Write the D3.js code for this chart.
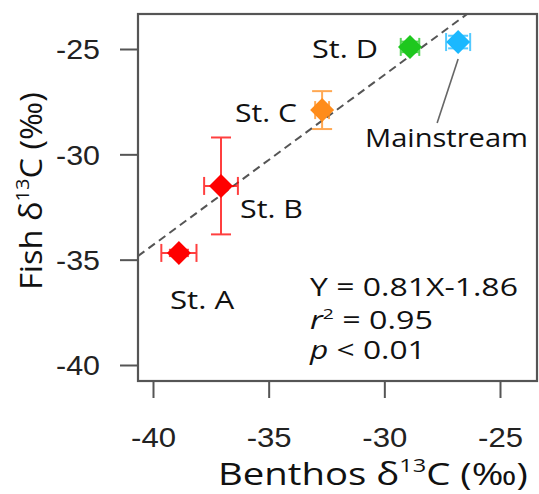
<!DOCTYPE html>
<html>
<head>
<meta charset="utf-8">
<script src="https://cdn.jsdelivr.net/npm/d3@7"></script>
<style>
  html, body { margin: 0; padding: 0; background: #fff; }
  svg { display: block; }
</style>
</head>
<body>
<svg id="chart" width="539" height="494"></svg>
<script>
// ---- data ----
const stations   = ["St. A", "St. B", "St. C", "St. D", "Mainstream"];
const benthosX   = [-38.88, -37.06, -32.69, -28.89, -26.81];
const fishY      = [-34.68, -31.50, -27.90, -24.90, -24.67];
const xErr       = [0.76, 0.73, 0.30, 0.40, 0.52];
const yErr       = [0.15, 2.30, 0.90, 0.25, 0.30];
const colors     = ["#ff0000", "#ff0000", "#ff8c1a", "#1ec81e", "#1ab8ff"];
const xTicks     = [-40, -35, -30, -25];
const yTicks     = [-25, -30, -35, -40];
const fitLineX   = [-40.65, -26.42];
const fitLineY   = [-34.83, -23.34];
const statText   = ["Y = 0.81X-1.86", "0.95", "0.01"];

const svg = d3.select("#chart");
const box = { left: 138, right: 537, top: 14, bottom: 381 };

const x = d3.scaleLinear().domain([-40, -25]).range([153, 500]);
const y = d3.scaleLinear().domain([-25, -40]).range([49, 365]);

const tickFont = "'Liberation Sans', Arial, sans-serif";
const labFont = "'Open Sans', 'Noto Sans', sans-serif";

// horizontally fit a text (placed at its own origin) to a target width
function fit(textSel, tx, ty, width, rotate) {
  const w = textSel.node().getBBox().width;
  const sx = width / w;
  textSel.attr("transform", `translate(${tx},${ty})` + (rotate ? ` rotate(${rotate})` : "") + ` scale(${sx},1)`);
}

// axes
const xAxis = svg.append("g").attr("transform", `translate(0,${box.bottom})`)
  .call(d3.axisBottom(x).tickValues(xTicks).tickSize(17).tickSizeOuter(0));
xAxis.select(".domain").remove();
xAxis.selectAll(".tick line").attr("stroke", "#555").attr("stroke-width", 2);
xAxis.selectAll(".tick text").attr("y", 0).attr("dy", 0)
  .attr("font-family", tickFont).attr("font-size", 27).attr("fill", "#222")
  .text(d => String(d))
  .each(function () { fit(d3.select(this), 0, 66, 45); });

const yAxis = svg.append("g").attr("transform", `translate(${box.left},0)`)
  .call(d3.axisLeft(y).tickValues(yTicks).tickSize(18).tickSizeOuter(0));
yAxis.select(".domain").remove();
yAxis.selectAll(".tick line").attr("stroke", "#555").attr("stroke-width", 2);
yAxis.selectAll(".tick text").attr("x", 0).attr("dy", "0.36em")
  .attr("font-family", tickFont).attr("font-size", 27).attr("fill", "#222")
  .text(d => String(d))
  .each(function () { fit(d3.select(this), -38, 0, 44); });

// box
svg.append("rect")
  .attr("x", box.left).attr("y", box.top)
  .attr("width", box.right - box.left).attr("height", box.bottom - box.top)
  .attr("fill", "none").attr("stroke", "#555").attr("stroke-width", 2.2);

// clip
svg.append("clipPath").attr("id", "clip").append("rect")
  .attr("x", box.left).attr("y", box.top)
  .attr("width", box.right - box.left).attr("height", box.bottom - box.top);

// fit line
svg.append("line")
  .attr("clip-path", "url(#clip)")
  .attr("x1", x(fitLineX[0])).attr("y1", y(fitLineY[0]))
  .attr("x2", x(fitLineX[1])).attr("y2", y(fitLineY[1]))
  .attr("stroke", "#555").attr("stroke-width", 2).attr("stroke-dasharray", "8,5");

// leader line for Mainstream
svg.append("line")
  .attr("x1", x(benthosX[4])).attr("y1", y(fishY[4]) + 17)
  .attr("x2", x(benthosX[4]) - 21).attr("y2", y(fishY[4]) + 81)
  .attr("stroke", "#666").attr("stroke-width", 1.6);

// error bars + points
const pts = stations.map((s, i) => ({ s, x: benthosX[i], y: fishY[i], ex: xErr[i], ey: yErr[i], c: colors[i] }));
const g = svg.append("g");
pts.forEach(p => {
  const cx = x(p.x), cy = y(p.y);
  const eg = g.append("g").attr("stroke", p.c).attr("stroke-width", 2).attr("opacity", 0.75);
  const capV = 10, capH = 9;
  eg.append("line").attr("x1", cx).attr("x2", cx).attr("y1", y(p.y + p.ey)).attr("y2", y(p.y - p.ey));
  eg.append("line").attr("x1", cx - capV).attr("x2", cx + capV).attr("y1", y(p.y + p.ey)).attr("y2", y(p.y + p.ey));
  eg.append("line").attr("x1", cx - capV).attr("x2", cx + capV).attr("y1", y(p.y - p.ey)).attr("y2", y(p.y - p.ey));
  eg.append("line").attr("y1", cy).attr("y2", cy).attr("x1", x(p.x - p.ex)).attr("x2", x(p.x + p.ex));
  eg.append("line").attr("y1", cy - capH).attr("y2", cy + capH).attr("x1", x(p.x - p.ex)).attr("x2", x(p.x - p.ex));
  eg.append("line").attr("y1", cy - capH).attr("y2", cy + capH).attr("x1", x(p.x + p.ex)).attr("x2", x(p.x + p.ex));
  const r = 12;
  g.append("path")
    .attr("d", `M${cx},${cy - r}L${cx + r},${cy}L${cx},${cy + r}L${cx - r},${cy}Z`)
    .attr("fill", p.c);
});

// station labels
const labPos = [
  { t: stations[0], x: 170, y: 309, w: 65 },
  { t: stations[1], x: 240, y: 218, w: 63 },
  { t: stations[2], x: 235, y: 122, w: 62 },
  { t: stations[3], x: 312, y: 58,  w: 66 },
  { t: stations[4], x: 365, y: 147, w: 163 }
];
labPos.forEach(d => {
  const t = svg.append("text").attr("font-family", labFont).attr("font-size", 26).attr("fill", "#111").text(d.t);
  fit(t, d.x, d.y, d.w);
});

// stats text
const st = svg.append("g").attr("font-family", labFont).attr("font-size", 25).attr("fill", "#111");
const t1 = st.append("text").text(statText[0]);
fit(t1, 310, 296, 208);
const t2 = st.append("text");
t2.append("tspan").attr("font-style", "italic").text("r");
t2.append("tspan").attr("font-size", 15).attr("dy", -10).text("2");
t2.append("tspan").attr("dy", 10).text(" = " + statText[1]);
fit(t2, 310, 329, 123);
const t3 = st.append("text");
t3.append("tspan").attr("font-style", "italic").text("p");
t3.append("tspan").text(" < " + statText[2]);
fit(t3, 310, 359, 117);

// axis titles
const xt = svg.append("text").attr("font-family", labFont).attr("font-size", 31).attr("fill", "#111");
xt.append("tspan").text("Benthos δ");
xt.append("tspan").attr("font-size", 19).attr("dy", -13).text("13");
xt.append("tspan").attr("dy", 13).text("C (‰)");
fit(xt, 218, 485, 310);

const yt = svg.append("text").attr("font-family", labFont).attr("font-size", 31).attr("fill", "#111");
yt.append("tspan").text("Fish δ");
yt.append("tspan").attr("font-size", 19).attr("dy", -13).text("13");
yt.append("tspan").attr("dy", 13).text("C (‰)");
fit(yt, 42, 290, 198, -90);
</script>
</body>
</html>
